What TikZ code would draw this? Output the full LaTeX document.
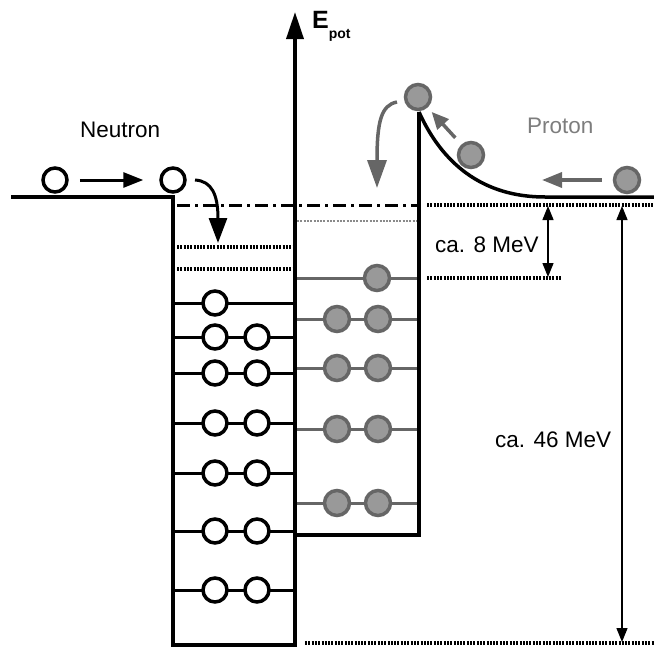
\documentclass[tikz,border=0pt]{standalone}
\usepackage{fontspec}
\setmainfont{Liberation Sans}
\usetikzlibrary{arrows.meta}
\definecolor{pgray}{HTML}{999999}
\definecolor{dgray}{HTML}{666666}
\definecolor{lgray}{HTML}{8A8A8A}
\begin{document}
\begin{tikzpicture}[x=1pt,y=-1pt,
  wall/.style={line width=4pt},
  nlev/.style={line width=3pt},
  plev/.style={line width=3pt, draw=dgray},
  neu/.style={circle, draw, line width=3.5pt, fill=white, minimum size=24pt, inner sep=0pt},
  pro/.style={circle, draw=dgray, line width=3.5pt, fill=pgray, minimum size=25pt, inner sep=0pt},
  dotl/.style={line width=3.2pt, dash pattern=on 2pt off 1.3pt},
  lbl/.style={font=\fontsize{22.5}{26}\selectfont, anchor=base west, inner sep=0pt},
  thinarr/.style={line width=1.3pt, {Triangle[length=14pt,width=11pt]}-{Triangle[length=14pt,width=11pt]}},
  garr/.style={draw=dgray, line width=3.5pt}
]
\useasboundingbox (0,0) rectangle (654,648);

% neutron energy levels (solid) and nucleons
\foreach \y in {303,337,373,423,473,531,590}
  \draw[nlev] (173,\y) -- (295,\y);
\draw[dotl] (177,247) -- (293,247);
\draw[dotl] (177,269) -- (293,269);
\node[neu] (n01) at (215,303) {};
\foreach \y [count=\i] in {337,373,423,473,531,590} {
  \node[neu] (nl\i) at (215,\y) {};
  \node[neu] (nr\i) at (257,\y) {};
}

% proton energy levels
\foreach \y in {278,319,368,429,503}
  \draw[plev] (297,\y) -- (417,\y);
\draw[line width=2.5pt, draw=lgray, dash pattern=on 2pt off 1.3pt] (297,221) -- (417,221);
\node[pro] (p01) at (377,278) {};
\foreach \y [count=\i] in {319,368,429,503} {
  \node[pro] (pl\i) at (337,\y) {};
  \node[pro] (pr\i) at (378,\y) {};
}

% walls
\draw[wall] (11,197) -- (173,197) -- (173,645) -- (295,645);
\draw[wall] (295,535) -- (419,535) -- (419,112);
\draw[line width=3.5pt, -{Triangle[length=27pt,width=17pt]}] (295,647) -- (295,12);
\node[anchor=base west, inner sep=0pt, font=\bfseries] (epot) at (312,28)
  {\fontsize{25}{30}\selectfont E\raisebox{-10pt}{\fontsize{14}{16}\selectfont pot}};

% Coulomb barrier
\draw[line width=3.5pt] (419,112) .. controls (442,163) and (482,197) .. (545,197) -- (654,197);

% reference lines
\draw[line width=3pt, dash pattern=on 13pt off 5pt on 3pt off 5pt] (177,205) -- (418,205);
\draw[dotl] (427,205) -- (654,205);
\draw[dotl] (427,278) -- (562,278);
\draw[dotl] (305,643) -- (654,643);

% energy arrows
\coordinate (a8t) at (548,206);
\coordinate (a8b) at (548,277);
\draw[thinarr] (a8t) -- (a8b);
\coordinate (a46t) at (622,206);
\coordinate (a46b) at (622,642);
\draw[thinarr] (a46t) -- (a46b);
\node[lbl] (l8) at (435,252) {ca. 8 MeV};
\node[lbl] (l46) at (495,447) {ca. 46 MeV};

% neutron
\node[lbl] (lneu) at (80,137) {Neutron};
\node[neu] (na) at (55,180) {};
\node[neu] (nb) at (173,180) {};
\draw[line width=3pt, -{Triangle[length=20pt,width=15pt]}, shorten <=11pt, shorten >=16pt] (na) -- (nb);
\coordinate (ncs) at (195,180);
\coordinate (nce) at (218,243);
\draw[line width=3pt, -{Triangle[length=25pt,width=18pt]}] (ncs) .. controls (212,181) and (218,195) .. (nce);

% proton
\node[lbl, text=dgray!85] (lpro) at (527,133) {Proton};
\node[pro] (pt) at (418,97) {};
\node[pro] (pm) at (471,155) {};
\node[pro] (pin) at (627,180) {};
\coordinate (pinend) at (542,180);
\draw[garr, -{Triangle[length=20pt,width=15pt]}, shorten <=11pt] (pin) -- (pinend);
\draw[garr, -{Triangle[length=17pt,width=15pt]}, shorten <=9pt, shorten >=6pt] (pm) -- (pt);
\coordinate (pcs) at (397,102);
\coordinate (pce) at (377,188);
\draw[garr, -{Triangle[length=28pt,width=19pt]}] (pcs) .. controls (381,105) and (377,122) .. (pce);
\end{tikzpicture}
\end{document}
